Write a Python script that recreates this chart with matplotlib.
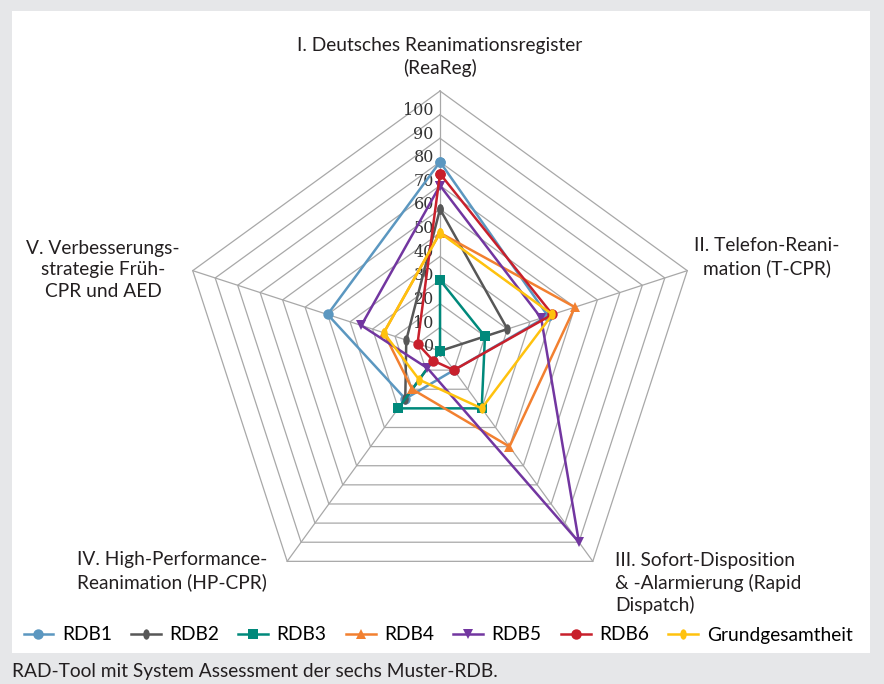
import numpy as np
import matplotlib
matplotlib.use("Agg")
import matplotlib.pyplot as plt
from matplotlib.patches import Rectangle
from matplotlib.path import Path
from matplotlib.transforms import Affine2D

# Axes of the radar (clockwise from top)
AXES = ["I", "II", "III", "IV", "V"]

# Scores per series, order I..V
rdb1 = [80, 48, 10, 25, 50]
rdb2 = [60, 30, 0, 25, 15]
rdb3 = [30, 20, 30, 30, 0]
rdb4 = [50, 60, 50, 20, 25]
rdb5 = [70, 45, 100, 9, 35]
rdb6 = [75, 50, 10, 5, 10]
grund = [50, 50, 30, 15, 25]

series_names = ["RDB1", "RDB2", "RDB3", "RDB4", "RDB5", "RDB6", "Grundgesamtheit"]
tick_values = list(range(0, 101, 10))
RMAX = 110

W, H = 884, 684
CX, CY = 440, 351          # centre of radar in pixels
PX_PER_UNIT = 260 / RMAX

oval = Path.unit_circle().transformed(Affine2D().scale(0.62, 1.0))
styles = [
    dict(color="#5b97c0", marker="o"),
    dict(color="#575757", marker=oval),
    dict(color="#00897b", marker="s"),
    dict(color="#f28030", marker="^"),
    dict(color="#7236a0", marker="v"),
    dict(color="#c8202c", marker="o"),
    dict(color="#ffc20e", marker=oval),
]

angles = np.deg2rad([90, 18, -54, -126, 162])


def to_xy(values):
    v = np.asarray(values, dtype=float)
    x = v * np.cos(angles)
    y = v * np.sin(angles)
    return np.append(x, x[0]), np.append(y, y[0])


fig = plt.figure(figsize=(W / 100, H / 100), dpi=100)
fig.patch.set_facecolor("#e6e7e9")
fig.patches.append(Rectangle((12 / W, 1 - 653 / H), (870 - 12) / W, (653 - 11) / H,
                             transform=fig.transFigure, facecolor="white",
                             edgecolor="none", zorder=-10))

ax = fig.add_axes([0, 0, 1, 1])
ax.set_xlim(-CX / PX_PER_UNIT, (W - CX) / PX_PER_UNIT)
ax.set_ylim(-(H - CY) / PX_PER_UNIT, CY / PX_PER_UNIT)
ax.set_facecolor("none")
ax.axis("off")

# pentagon grid + spokes
grid_col = "#a8a8a8"
for r in range(10, RMAX + 1, 10):
    gx, gy = to_xy([r] * 5)
    ax.plot(gx, gy, color=grid_col, lw=0.9, zorder=1)
for a in angles:
    ax.plot([0, RMAX * np.cos(a)], [0, RMAX * np.sin(a)], color=grid_col, lw=0.9, zorder=1)

# value labels along axis I
for v in tick_values:
    ax.text(-2.6, v + 1.8, str(v), ha="right", va="center", fontsize=11.5,
            family="DejaVu Serif", color="#333333", zorder=2)

all_series = [rdb1, rdb2, rdb3, rdb4, rdb5, rdb6, grund]
handles = []
for i, (name, vals, st) in enumerate(zip(series_names, all_series, styles)):
    x, y = to_xy(vals)
    h, = ax.plot(x, y, color=st["color"], lw=1.8, marker=st["marker"], markersize=7.5,
                 markeredgewidth=0, label=name, zorder=3 + i)
    handles.append(h)

# axis category labels
lab_kw = dict(fontsize=13.8, family="Lato", color="#231f20", linespacing=1.3)
fig.text(440 / W, 1 - 57 / H, "I. Deutsches Reanimationsregister\n(ReaReg)",
         ha="center", va="center", multialignment="center", **lab_kw)
fig.text(767 / W, 1 - 257 / H, "II. Telefon-Reani-\nmation (T-CPR)",
         ha="center", va="center", multialignment="center", **lab_kw)
fig.text(615 / W, 1 - 583 / H, "III. Sofort-Disposition\n& -Alarmierung (Rapid\nDispatch)",
         ha="left", va="center", multialignment="left", **lab_kw)
fig.text(172 / W, 1 - 571 / H, "IV. High-Performance-\nReanimation (HP-CPR)",
         ha="center", va="center", multialignment="center", **lab_kw)
fig.text(103 / W, 1 - 270 / H, "V. Verbesserungs-\nstrategie Früh-\nCPR und AED",
         ha="center", va="center", multialignment="center", **lab_kw)

fig.legend(handles=handles, loc="center", bbox_to_anchor=(438 / W, 1 - 635 / H),
           ncol=7, frameon=False, prop={"family": "Lato", "size": 13.8},
           handlelength=1.55, handletextpad=0.45, columnspacing=1.0, borderpad=0)

fig.text(12 / W, 1 - 672 / H, "RAD-Tool mit System Assessment der sechs Muster-RDB.",
         ha="left", va="center", fontsize=13.8, family="Lato", color="#231f20")

fig.savefig("out.png", dpi=100, facecolor=fig.get_facecolor())
